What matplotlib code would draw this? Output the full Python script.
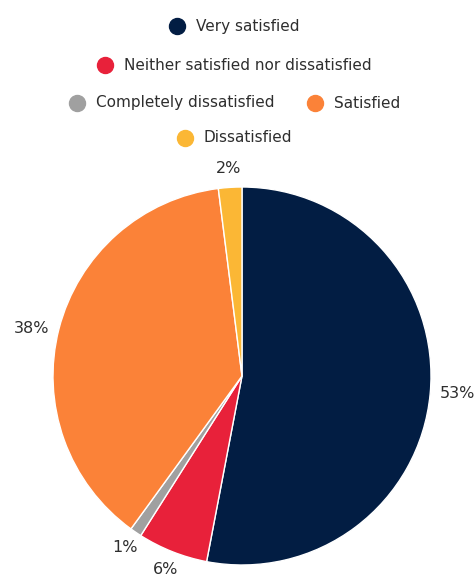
import matplotlib.pyplot as plt
import numpy as np
from matplotlib.lines import Line2D

categories = ['Very satisfied', 'Neither satisfied nor dissatisfied',
              'Completely dissatisfied', 'Satisfied', 'Dissatisfied']
shares = [53, 6, 1, 38, 2]
labels = ['53%', '6%', '1%', '38%', '2%']
colors = ['#021d43', '#e8213a', '#a0a0a0', '#fb8238', '#fbb735']

W, H = 477, 578
fig = plt.figure(figsize=(W / 100, H / 100), dpi=100)
text_color = '#2e2e2e'

# pie area in pixels: centre (242, 376 from top), radius 189
cx, cy, r = 242, H - 376, 189
ax = fig.add_axes([(cx - r) / W, (cy - r) / H, 2 * r / W, 2 * r / H])
wedges, _ = ax.pie(shares, colors=colors, startangle=90, counterclock=False,
                   wedgeprops=dict(edgecolor='white', linewidth=1))
ax.set_xlim(-1, 1)
ax.set_ylim(-1, 1)
ax.set_aspect('equal')
ax.axis('off')

# percentage labels just outside each slice
for w, lab in zip(wedges, labels):
    ang = np.deg2rad((w.theta1 + w.theta2) / 2)
    c, s = np.cos(ang), np.sin(ang)
    if abs(c) > 0.9:
        ha = 'left' if c > 0 else 'right'
        x, y = 1.05 * c, 1.0 * s
    else:
        ha = 'center'
        x, y = 1.1 * c, 1.1 * s
    ax.text(x, y, lab, ha=ha, va='center', fontsize=11.5,
            color=text_color, clip_on=False)

# legend laid out as centred rows that wrap
renderer = fig.canvas.get_renderer()
font_size = 11
marker_r = 8
gap_marker_text = 19
gap_items = 32
max_row = 340
row_y = [26, 65, 103, 138]

widths = []
for name in categories:
    t = fig.text(0, 0, name, fontsize=font_size)
    widths.append(t.get_window_extent(renderer).width)
    t.remove()

items = [marker_r + gap_marker_text + w for w in widths]
rows, cur = [], []
for i, w in enumerate(items):
    trial = sum(items[j] for j in cur) + gap_items * len(cur) + w
    if cur and trial > max_row:
        rows.append(cur)
        cur = []
    cur.append(i)
rows.append(cur)

for ri, row in enumerate(rows):
    total = sum(items[j] for j in row) + gap_items * (len(row) - 1) + marker_r
    x = W / 2 - total / 2 + marker_r
    y = H - row_y[ri]
    for j in row:
        fig.add_artist(Line2D([x / W], [y / H], marker='o',
                              markersize=2 * marker_r * 0.72,
                              color=colors[j], linestyle='none',
                              transform=fig.transFigure))
        fig.text((x + gap_marker_text) / W, y / H, categories[j], fontsize=font_size,
                 color=text_color, ha='left', va='center')
        x += items[j] + gap_items

fig.savefig('out.png', dpi=100, facecolor='white')
